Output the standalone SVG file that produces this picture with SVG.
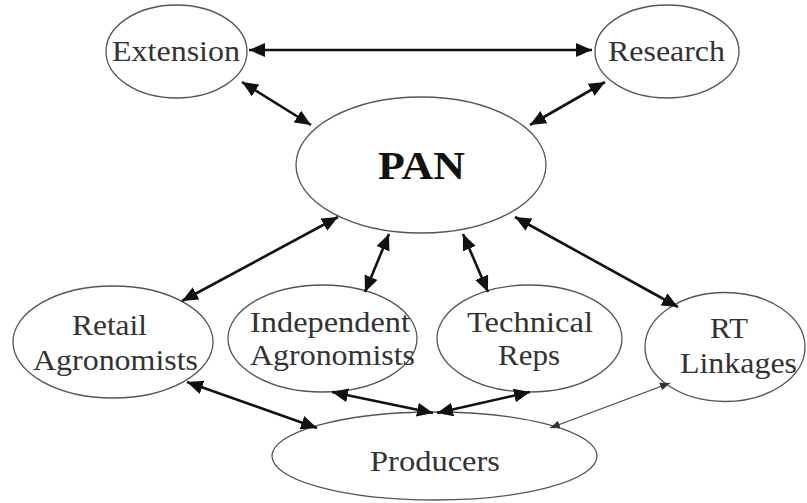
<svg xmlns="http://www.w3.org/2000/svg" width="807" height="503" viewBox="0 0 807 503">
<defs>
<style>
.node ellipse{fill:#fff;stroke:#555;stroke-width:1.3}
.node text{font-family:"Liberation Serif","Times New Roman",serif;font-size:29px;fill:#333}
.node text.b{font-weight:bold;font-size:40px;fill:#111}
.c line{stroke:#111;stroke-width:2.6;marker-start:url(#ah);marker-end:url(#ah)}
.c line.thin{stroke:#444;stroke-width:1.2;marker-start:url(#as);marker-end:url(#as)}
</style>
<marker id="ah" markerUnits="userSpaceOnUse" markerWidth="17" markerHeight="15" refX="16" refY="7" orient="auto-start-reverse" viewBox="0 0 17 15">
<path d="M0,0 L16,7 L0,14 z" fill="#111"/>
</marker>
<marker id="as" markerUnits="userSpaceOnUse" markerWidth="11" markerHeight="9" refX="10" refY="4" orient="auto-start-reverse" viewBox="0 0 11 9">
<path d="M0,0 L10,4 L0,8 z" fill="#333"/>
</marker>
</defs>
<rect width="807" height="503" fill="#fff"/>
<g id="n-extension" class="node">
<ellipse cx="176.5" cy="51.5" rx="70.5" ry="46.5"/>
<text x="112" y="61" textLength="128" lengthAdjust="spacingAndGlyphs">Extension</text>
</g>
<g id="n-research" class="node">
<ellipse cx="667" cy="51.5" rx="72" ry="46.5"/>
<text x="608" y="61" textLength="117" lengthAdjust="spacingAndGlyphs">Research</text>
</g>
<g id="n-pan" class="node">
<ellipse cx="421" cy="165" rx="125" ry="68"/>
<text class="b" x="378" y="179" textLength="87" lengthAdjust="spacingAndGlyphs">PAN</text>
</g>
<g id="n-retail" class="node">
<ellipse cx="113" cy="342" rx="100" ry="56"/>
<text x="72" y="335" textLength="75" lengthAdjust="spacingAndGlyphs">Retail</text>
<text x="33" y="370" textLength="165" lengthAdjust="spacingAndGlyphs">Agronomists</text>
</g>
<g id="n-independent" class="node">
<ellipse cx="322.5" cy="338.5" rx="94.5" ry="53.5"/>
<text x="250" y="332" textLength="160" lengthAdjust="spacingAndGlyphs">Independent</text>
<text x="250" y="365" textLength="165" lengthAdjust="spacingAndGlyphs">Agronomists</text>
</g>
<g id="n-technical" class="node">
<ellipse cx="529.5" cy="338.5" rx="92.5" ry="53.5"/>
<text x="467" y="332" textLength="126" lengthAdjust="spacingAndGlyphs">Technical</text>
<text x="498" y="365" textLength="62" lengthAdjust="spacingAndGlyphs">Reps</text>
</g>
<g id="n-rt" class="node">
<ellipse cx="725" cy="347" rx="80" ry="54.5"/>
<text x="710" y="338" textLength="38" lengthAdjust="spacingAndGlyphs">RT</text>
<text x="680" y="373" textLength="117" lengthAdjust="spacingAndGlyphs">Linkages</text>
</g>
<g id="n-producers" class="node">
<ellipse cx="434.5" cy="456" rx="162.5" ry="44"/>
<text x="370" y="471" textLength="130" lengthAdjust="spacingAndGlyphs">Producers</text>
</g>
<g id="connectors" class="c">
<line x1="249" y1="50" x2="592" y2="50"/>
<line x1="242" y1="82" x2="311" y2="125"/>
<line x1="605" y1="82" x2="530" y2="125"/>
<line x1="338" y1="217" x2="182" y2="301"/>
<line x1="389" y1="234" x2="365" y2="292"/>
<line x1="463" y1="234" x2="488" y2="292"/>
<line x1="515" y1="217" x2="678" y2="307"/>
<line x1="187" y1="382" x2="317" y2="428"/>
<line x1="332" y1="392" x2="433" y2="413"/>
<line x1="530" y1="392" x2="437" y2="413"/>
<line class="thin" x1="670" y1="383" x2="550" y2="428"/>
</g>
</svg>
